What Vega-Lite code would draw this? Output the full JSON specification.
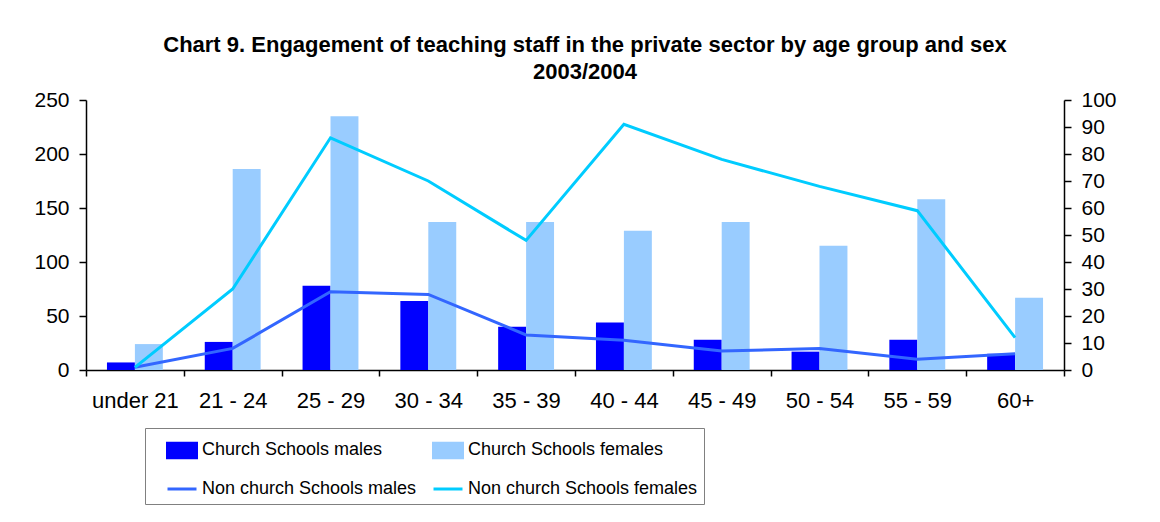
{
  "$schema": "https://vega.github.io/schema/vega-lite/v6.json",
  "width": 978,
  "height": 270,
  "autosize": {"type": "none"},
  "padding": {"left": 86, "top": 100, "right": 96, "bottom": 152},
  "background": "white",
  "config": {
    "view": {"stroke": null},
    "font": "Liberation Sans",
    "axis": {"labelFont": "Liberation Sans", "labelColor": "black", "domainColor": "black", "tickColor": "black", "grid": false, "domainWidth": 1.5, "tickWidth": 1.5, "title": null}
  },
  "title": {
    "text": ["Chart 9. Engagement of teaching staff in the private sector by age group and sex", "2003/2004"],
    "fontSize": 22, "font": "Liberation Sans", "fontWeight": "bold", "color": "black",
    "lineHeight": 27, "offset": 5, "dx": 10
  },
  "data": {"values": [
    {"age": "under 21", "group": "church", "series": "Church Schools males", "value": 7},
    {"age": "21 - 24", "group": "church", "series": "Church Schools males", "value": 26},
    {"age": "25 - 29", "group": "church", "series": "Church Schools males", "value": 78},
    {"age": "30 - 34", "group": "church", "series": "Church Schools males", "value": 64},
    {"age": "35 - 39", "group": "church", "series": "Church Schools males", "value": 40},
    {"age": "40 - 44", "group": "church", "series": "Church Schools males", "value": 44},
    {"age": "45 - 49", "group": "church", "series": "Church Schools males", "value": 28},
    {"age": "50 - 54", "group": "church", "series": "Church Schools males", "value": 17},
    {"age": "55 - 59", "group": "church", "series": "Church Schools males", "value": 28},
    {"age": "60+", "group": "church", "series": "Church Schools males", "value": 15},
    {"age": "under 21", "group": "church", "series": "Church Schools females", "value": 24},
    {"age": "21 - 24", "group": "church", "series": "Church Schools females", "value": 186},
    {"age": "25 - 29", "group": "church", "series": "Church Schools females", "value": 235},
    {"age": "30 - 34", "group": "church", "series": "Church Schools females", "value": 137},
    {"age": "35 - 39", "group": "church", "series": "Church Schools females", "value": 137},
    {"age": "40 - 44", "group": "church", "series": "Church Schools females", "value": 129},
    {"age": "45 - 49", "group": "church", "series": "Church Schools females", "value": 137},
    {"age": "50 - 54", "group": "church", "series": "Church Schools females", "value": 115},
    {"age": "55 - 59", "group": "church", "series": "Church Schools females", "value": 158},
    {"age": "60+", "group": "church", "series": "Church Schools females", "value": 67},
    {"age": "under 21", "group": "non", "series": "Non church Schools males", "value": 1},
    {"age": "21 - 24", "group": "non", "series": "Non church Schools males", "value": 8},
    {"age": "25 - 29", "group": "non", "series": "Non church Schools males", "value": 29},
    {"age": "30 - 34", "group": "non", "series": "Non church Schools males", "value": 28},
    {"age": "35 - 39", "group": "non", "series": "Non church Schools males", "value": 13},
    {"age": "40 - 44", "group": "non", "series": "Non church Schools males", "value": 11},
    {"age": "45 - 49", "group": "non", "series": "Non church Schools males", "value": 7},
    {"age": "50 - 54", "group": "non", "series": "Non church Schools males", "value": 8},
    {"age": "55 - 59", "group": "non", "series": "Non church Schools males", "value": 4},
    {"age": "60+", "group": "non", "series": "Non church Schools males", "value": 6},
    {"age": "under 21", "group": "non", "series": "Non church Schools females", "value": 1},
    {"age": "21 - 24", "group": "non", "series": "Non church Schools females", "value": 30},
    {"age": "25 - 29", "group": "non", "series": "Non church Schools females", "value": 86},
    {"age": "30 - 34", "group": "non", "series": "Non church Schools females", "value": 70},
    {"age": "35 - 39", "group": "non", "series": "Non church Schools females", "value": 48},
    {"age": "40 - 44", "group": "non", "series": "Non church Schools females", "value": 91},
    {"age": "45 - 49", "group": "non", "series": "Non church Schools females", "value": 78},
    {"age": "50 - 54", "group": "non", "series": "Non church Schools females", "value": 68},
    {"age": "55 - 59", "group": "non", "series": "Non church Schools females", "value": 59},
    {"age": "60+", "group": "non", "series": "Non church Schools females", "value": 12}
  ]},
  "encoding": {
    "x": {
      "field": "age", "type": "nominal",
      "sort": ["under 21", "21 - 24", "25 - 29", "30 - 34", "35 - 39", "40 - 44", "45 - 49", "50 - 54", "55 - 59", "60+"],
      "scale": {"paddingInner": 0, "paddingOuter": 0},
      "axis": {"labelAngle": 0, "labelFontSize": 22, "tickBand": "extent", "tickSize": 6, "labelPadding": 14,
        "encode": {"ticks": {"update": {"y": {"value": -6}}}}}
    },
    "color": {
      "field": "series", "type": "nominal",
      "scale": {
        "domain": ["Church Schools males", "Church Schools females", "Non church Schools males", "Non church Schools females"],
        "range": ["#0000FF", "#99CCFF", "#3366FF", "#00CCFF"]
      },
      "legend": {
        "orient": "none", "legendX": 59, "legendY": 328, "columns": 2, "columnPadding": -6, "rowPadding": 9,
        "values": ["Church Schools males", "Non church Schools males", "Church Schools females", "Non church Schools females"],
        "title": null, "labelFontSize": 18, "labelFont": "Liberation Sans", "labelColor": "black", "labelLimit": 400,
        "strokeColor": "#808080", "padding": 6, "symbolSize": 841, "labelOffset": 4, "symbolOffset": 15,
        "encode": {
          "symbols": {"update": {
            "shape": {"signal": "indexof(datum.value, 'Non') === 0 ? 'M-1,0H1' : 'M-1,-0.5H1V0.5H-1Z'"},
            "fill": {"signal": "indexof(datum.value, 'Non') === 0 ? 'transparent' : scale('color', datum.value)"},
            "stroke": {"signal": "indexof(datum.value, 'Non') === 0 ? scale('color', datum.value) : 'transparent'"},
            "strokeWidth": {"value": 3},
            "opacity": {"value": 1}
          }}
        }
      }
    }
  },
  "layer": [
    {
      "transform": [{"filter": "datum.group == 'church'"}],
      "mark": {"type": "bar"},
      "encoding": {
        "xOffset": {"field": "series", "type": "nominal", "sort": ["Church Schools males", "Church Schools females"], "scale": {"paddingInner": 0, "paddingOuter": 0.75}},
        "y": {"field": "value", "type": "quantitative", "scale": {"domain": [0, 250]},
          "axis": {"values": [0, 50, 100, 150, 200, 250], "labelFontSize": 21, "tickSize": 7, "labelPadding": 10,
            "encode": {"ticks": {"update": {"x": {"value": 7}}}}}}
      }
    },
    {
      "transform": [{"filter": "datum.group == 'non'"}],
      "mark": {"type": "line", "strokeWidth": 3},
      "encoding": {
        "y": {"field": "value", "type": "quantitative", "scale": {"domain": [0, 100]},
          "axis": {"orient": "right", "values": [0, 10, 20, 30, 40, 50, 60, 70, 80, 90, 100], "labelFontSize": 21, "tickSize": 7, "labelPadding": 10,
            "encode": {"ticks": {"update": {"x": {"value": -7}}}}}}
      }
    }
  ],
  "resolve": {"scale": {"y": "independent"}}
}
